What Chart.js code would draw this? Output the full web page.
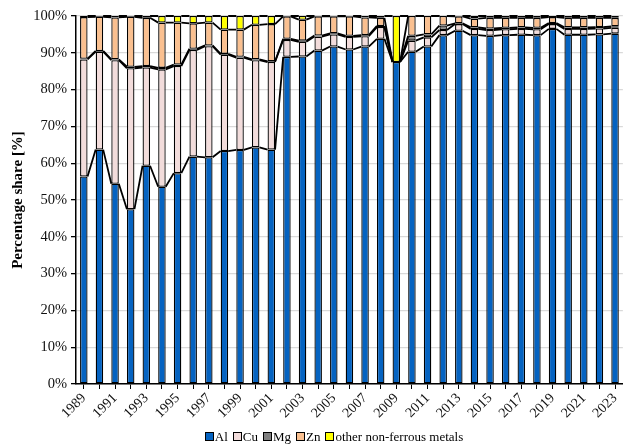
<!DOCTYPE html>
<html>
<head>
<meta charset="utf-8">
<script src="https://cdn.jsdelivr.net/npm/chart.js@4/dist/chart.umd.min.js"></script>
<style>
  html, body { margin: 0; padding: 0; background: #fff; }
  #wrap { width: 628px; height: 447px; position: relative; }
  #legend {
    position: absolute; left: 0; width: 628px; top: 429px;
    display: flex; justify-content: center; padding-left: 40px; box-sizing: border-box;
    font-family: 'Liberation Serif', 'Times New Roman', serif; font-size: 13px; color: #000;
    line-height: 15px;
  }
  #legend .item { display: flex; align-items: center; margin: 0 2.5px; }
  #legend .box { width: 7px; height: 7px; border: 1px solid #000; margin-right: 1px; }
</style>
</head>
<body>
<div id="wrap"><canvas id="c" width="628" height="447"></canvas><div id="legend"></div></div>
<script>
// Share of non-ferrous metals, 1989–2023 (percent of total)
const years = ['1989','1990','1991','1992','1993','1994','1995','1996','1997','1998','1999','2000','2001','2002','2003','2004','2005','2006','2007','2008','2009','2010','2011','2012','2013','2014','2015','2016','2017','2018','2019','2020','2021','2022','2023'];

const al    = [56.4, 63.7, 54.4, 47.5, 59.3, 53.6, 57.3, 61.8, 61.6, 63.3, 63.6, 64.3, 63.7, 88.9, 89.0, 90.6, 91.7, 90.9, 91.7, 93.8, 87.5, 90.3, 91.7, 94.8, 96.0, 94.8, 94.6, 94.8, 94.9, 94.8, 96.5, 94.9, 94.9, 95.0, 95.2];
const cu    = [31.8, 26.6, 33.6, 38.3, 26.7, 31.9, 29.1, 29.0, 30.2, 26.2, 25.1, 23.7, 23.8, 4.6, 4.0, 3.8, 3.3, 3.4, 2.8, 3.2, 0.0, 3.0, 2.5, 1.4, 1.8, 1.7, 1.6, 1.6, 1.6, 1.6, 1.3, 1.6, 1.6, 1.6, 1.6];
const mg    = [0.2, 0.2, 0.2, 0.4, 0.4, 0.4, 0.4, 0.3, 0.2, 0.2, 0.2, 0.2, 0.2, 0.3, 0.3, 0.3, 0.3, 0.3, 0.3, 0.3, 0.0, 1.3, 0.8, 1.2, 0.2, 0.4, 0.4, 0.4, 0.4, 0.4, 0.3, 0.4, 0.4, 0.4, 0.4];
const zn    = [11.3, 9.3, 11.4, 13.6, 13.1, 12.3, 11.4, 6.9, 6.2, 6.6, 7.4, 9.4, 10.1, 6.1, 5.7, 5.2, 4.6, 5.3, 4.8, 2.2, 0.0, 5.4, 5.0, 2.6, 1.9, 2.4, 2.9, 2.7, 2.6, 2.7, 1.6, 2.6, 2.6, 2.5, 2.3];
const other = [0.3, 0.2, 0.4, 0.2, 0.5, 1.8, 1.8, 2.0, 1.8, 3.7, 3.7, 2.4, 2.2, 0.1, 1.0, 0.1, 0.1, 0.1, 0.4, 0.5, 12.5, 0.0, 0.0, 0.0, 0.1, 0.7, 0.5, 0.5, 0.5, 0.5, 0.3, 0.5, 0.5, 0.5, 0.5];

const yTicks = [0, 10, 20, 30, 40, 50, 60, 70, 80, 90, 100];

const serif = "'Liberation Serif', 'Times New Roman', serif";

// Series lines joining the top of each stacked segment from bar to bar
const seriesLines = {
  id: 'seriesLines',
  afterDatasetsDraw(chart) {
    const ctx = chart.ctx;
    ctx.save();
    ctx.strokeStyle = '#000';
    ctx.lineWidth = 1.8;
    ctx.lineJoin = 'round';
    chart.data.datasets.forEach((ds, i) => {
      const meta = chart.getDatasetMeta(i);
      ctx.beginPath();
      for (let j = 0; j < meta.data.length - 1; j++) {
        const a = meta.data[j], b = meta.data[j + 1];
        ctx.moveTo(a.x + a.width / 2, a.y);
        ctx.lineTo(b.x - b.width / 2, b.y);
      }
      ctx.stroke();
    });
    ctx.restore();
  }
};

const mk = (label, data, color) => ({
  label, data,
  backgroundColor: color,
  borderColor: '#000',
  borderWidth: 1.3,
  borderSkipped: false,
  barPercentage: 0.48,
  categoryPercentage: 1.0
});

const chart = new Chart(document.getElementById('c'), {
  type: 'bar',
  data: {
    labels: years,
    datasets: [
      mk('Al', al, '#0563C1'),
      mk('Cu', cu, '#F2DCDB'),
      mk('Mg', mg, '#808080'),
      mk('Zn', zn, '#FAC090'),
      mk('other non-ferrous metals', other, '#FFFF00')
    ]
  },
  options: {
    responsive: false,
    animation: false,
    layout: { padding: { left: 0, right: 5, top: 16, bottom: 0 } },
    plugins: {
      legend: { display: false },
      tooltip: { enabled: false }
    },
    scales: {
      x: {
        stacked: true,
        afterFit: (s) => { s.height = 63; },
        grid: { display: true, drawOnChartArea: false, offset: false, color: '#000', tickLength: 5 },
        border: { display: true, color: '#000', width: 1.5 },
        ticks: {
          autoSkip: false,
          maxRotation: 45,
          minRotation: 45,
          font: { family: serif, size: 14 },
          color: '#111',
          padding: 1,
          callback: function (v, i) { return i % 2 === 0 ? years[i] : ''; }
        }
      },
      y: {
        stacked: true,
        min: 0,
        max: 100,
        afterFit: (s) => { s.width = 76; },
        afterBuildTicks: (s) => { s.ticks = yTicks.map(v => ({ value: v })); },
        grid: { color: '#d9d9d9', lineWidth: 1.3, tickLength: 5, tickColor: '#000' },
        border: { display: true, color: '#000', width: 1.5 },
        ticks: {
          font: { family: serif, size: 14.5 },
          color: '#111',
          padding: 4,
          callback: (v) => v + '%'
        },
        title: {
          display: true,
          text: 'Percentage share [%]',
          font: { family: serif, size: 15, weight: 'bold' },
          color: '#000',
          padding: { top: 9, bottom: 0 }
        }
      }
    }
  },
  plugins: [seriesLines]
});

// Legend row built from the chart's own datasets
const legendEl = document.getElementById('legend');
chart.data.datasets.forEach((ds) => {
  const item = document.createElement('span');
  item.className = 'item';
  const box = document.createElement('span');
  box.className = 'box';
  box.style.background = ds.backgroundColor;
  const txt = document.createElement('span');
  txt.textContent = ds.label;
  item.appendChild(box);
  item.appendChild(txt);
  legendEl.appendChild(item);
});
</script>
</body>
</html>
